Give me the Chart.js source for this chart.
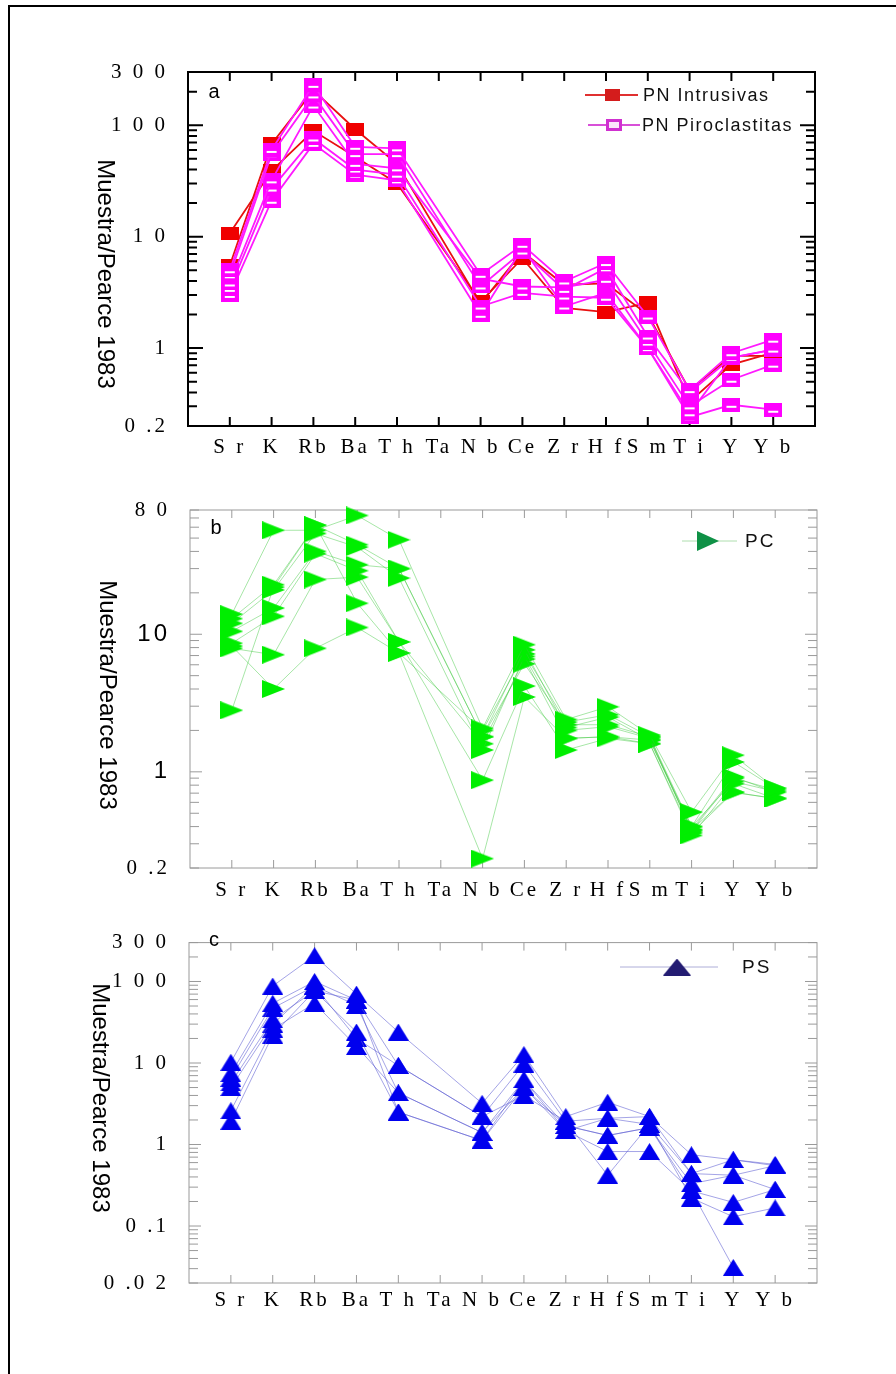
<!DOCTYPE html>
<html>
<head>
<meta charset="utf-8">
<script src="https://cdn.jsdelivr.net/npm/chart.js@4.4.0/dist/chart.umd.min.js"></script>
<style>
  body { margin: 0; background: #fff; }
  #page { position: relative; width: 896px; height: 1374px; overflow: hidden; background: #fff; }
  canvas { position: absolute; left: 0; }
  #edge { position: absolute; left: 8px; top: 5px; width: 950px; height: 1450px; border-left: 2px solid #000; border-top: 2px solid #000; }
</style>
</head>
<body>
<div id="page">
  <div id="edge"></div>
  <canvas id="chartA" width="896" height="470" style="top:0"></canvas>
  <canvas id="chartB" width="896" height="440" style="top:470px"></canvas>
  <canvas id="chartC" width="896" height="464" style="top:910px"></canvas>
</div>
<script>
// elements (Pearce 1983 normalisation), Ta has no data
const elements = ['Sr', 'K', 'Rb', 'Ba', 'Th', 'Ta', 'Nb', 'Ce', 'Zr', 'Hf', 'Sm', 'Ti', 'Y', 'Yb'];
const elementLabels = ['S r', 'K', 'Rb', 'Ba', 'T h', 'Ta', 'N b', 'Ce', 'Z r', 'H f', 'S m', 'T i', 'Y', 'Y b'];

// a - PN
const intrusivas = [
  [10.7, 39, 89, 52, 30, null, 2.6, 6.4, 2.3, 2.1, 2.55, 0.33, 0.71, 0.91],
  [5.5, 68, 205, 92, 45, null, 2.5, 7.3, 3.7, 3.8, 2.0, 0.42, 0.85, 0.85]
];
const piroclastitas = [
  [5.0, 60, 230, 64, 62, null, 4.55, 8.45, 3.96, 5.8, 1.92, 0.42, 0.9, 1.19],
  [4.5, 55, 185, 55, 55, null, 3.57, 7.35, 3.33, 5.2, 1.27, 0.40, 0.82, 0.97],
  [3.8, 32, 150, 45, 41, null, 4.2, 3.57, 3.5, 4.1, 1.12, 0.30, 0.52, 0.71],
  [3.4, 27, 76, 40, 36, null, 2.36, 3.13, 2.9, 2.83, 1.0, 0.26, 0.82, 0.97],
  [3.0, 21, 68, 36, 32, null, 1.99, 7.9, 2.36, 3.13, 1.0, 0.24, 0.31, 0.28]
];
const ticksA = [0.2, 1, 10, 100, 300];
const tickLabelsA = ['0 .2', '1', '1 0', '1 0 0', '3 0 0'];

// b - PC
const pc = [
  [14, 57, 57, 73, 48.6, null, 2.07, 8.4, 2.4, 2.97, 1.85, 0.51, 1.32, 0.76],
  [13, 22.9, 62, 44.8, 30, null, 1.8, 7.7, 2.1, 2.5, 1.7, 0.40, 1.18, 0.76],
  [12, 21, 54, 43, 25.6, null, 1.44, 6.9, 2.0, 2.13, 1.75, 0.38, 0.92, 0.71],
  [10.5, 15.5, 40, 32, 30, null, 1.8, 6.1, 2.2, 2.2, 1.8, 0.40, 0.85, 0.72],
  [8.6, 13.5, 38.5, 29, 8.8, null, 1.6, 6.6, 1.75, 1.8, 1.6, 0.345, 0.82, 0.64],
  [7.9, 7.1, 25, 26, 8.8, null, 0.87, 4.2, 1.44, 1.75, 1.6, 0.36, 0.71, 0.64],
  [8.2, 4.0, 7.9, 11.2, 7.3, null, 0.234, 3.5, 1.75, 1.8, 1.7, 0.38, 0.71, 0.64],
  [2.8, 22, 62, 16.8, 7.3, null, 2.0, 7.2, 2.3, 2.6, 1.8, 0.37, 0.9, 0.74]
];
const ticksB = [0.2, 1, 10, 80];
const tickLabelsB = ['0 .2', '1', '10', '8 0'];
const tickFontsB = ['serif', 'sans', 'sans', 'serif'];

// c - PS
const ps = [
  [10.2, 88, 207, 70, 24, null, 3.2, 12.7, 2.2, 3.3, 2.2, 0.75, 0.65, 0.57],
  [7.4, 54, 100, 59, 9.3, null, 2.2, 9.7, 1.93, 2.1, 1.76, 0.44, 0.42, 0.55],
  [6.5, 47, 88, 51, 4.3, null, 1.4, 6.2, 1.7, 1.29, 1.61, 0.33, 0.42, 0.28],
  [5.7, 34, 77, 24, 2.5, null, 1.12, 5.0, 1.47, 0.82, 0.82, 0.27, 0.195, 0.28],
  [5.0, 30, 88, 20, 9.3, null, 2.2, 4.0, 1.93, 0.42, 1.76, 0.22, 0.13, 0.167],
  [2.6, 26, 54, 16, 4.3, null, 1.4, 5.0, 1.7, 1.29, 1.61, 0.27, 0.031, null],
  [1.93, 22, 77, 59, 2.5, null, 1.12, 6.2, 1.47, 2.1, 2.2, 0.44, 0.65, 0.55]
];
const ticksC = [0.02, 0.1, 1, 10, 100, 300];
const tickLabelsC = ['0 .0 2', '0 .1', '1', '1 0', '1 0 0', '3 0 0'];

// marker images
function marker(w, h, paint) {
  const c = document.createElement('canvas');
  c.width = w; c.height = h;
  paint(c.getContext('2d'), w, h);
  return c;
}
const redSquare = marker(18, 13, (g, w, h) => { g.fillStyle = '#f00000'; g.fillRect(0, 0, w, h); });
const pinkSquare = marker(18, 14, (g, w, h) => {
  g.fillStyle = '#ff00ff'; g.fillRect(0, 0, w, h);
  g.fillStyle = '#fff'; g.fillRect(4, 8, 10, 2);
});
const greenTri = marker(23, 18, (g, w, h) => {
  g.fillStyle = '#00ee00'; g.beginPath(); g.moveTo(0, 0); g.lineTo(w, h / 2); g.lineTo(0, h); g.closePath(); g.fill();
});
const blueTri = marker(21, 17, (g, w, h) => {
  g.fillStyle = '#0000ee'; g.beginPath(); g.moveTo(w / 2, 0); g.lineTo(w, h); g.lineTo(0, h); g.closePath(); g.fill();
});
const legRed = marker(15, 12, (g, w, h) => { g.fillStyle = '#d41c1c'; g.fillRect(0, 0, w, h); });
const legPink = marker(16, 12, (g, w, h) => {
  g.fillStyle = '#d030d0'; g.fillRect(0, 0, w, h);
  g.fillStyle = '#fbe6fb'; g.fillRect(3, 3, w - 6, h - 6);
});
const legGreen = marker(22, 20, (g, w, h) => {
  g.fillStyle = '#0f9146'; g.beginPath(); g.moveTo(0, 0); g.lineTo(w, h / 2); g.lineTo(0, h); g.closePath(); g.fill();
});
const legNavy = marker(28, 17, (g, w, h) => {
  g.fillStyle = '#231c72'; g.beginPath(); g.moveTo(w / 2, 0); g.lineTo(w, h); g.lineTo(0, h); g.closePath(); g.fill();
});

const serif = 'Liberation Serif, Times New Roman, serif';
const sans = 'Liberation Sans, Arial, sans-serif';

const panelDecor = {
  id: 'panelDecor',
  beforeDraw(chart) {
    chart.ctx.letterSpacing = '3px';
  },
  beforeDatasetsDraw(chart, args, o) {
    const { ctx, chartArea: area, scales: { x, y } } = chart;
    ctx.save();
    ctx.strokeStyle = o.frameColor;
    ctx.lineWidth = o.frameWidth;
    ctx.strokeRect(area.left, area.top, area.right - area.left, area.bottom - area.top);
    ctx.beginPath();
    elements.forEach((el, i) => {
      const px = x.getPixelForValue(i);
      ctx.moveTo(px, area.top); ctx.lineTo(px, area.top + o.xTick);
      ctx.moveTo(px, area.bottom); ctx.lineTo(px, area.bottom - o.xTick);
    });
    const lo = Math.floor(Math.log10(y.min));
    const hi = Math.ceil(Math.log10(y.max));
    for (let d = lo; d <= hi; d++) {
      for (let m = 1; m < 10; m++) {
        const v = m * Math.pow(10, d);
        if (v < y.min * 0.999 || v > y.max * 1.001) continue;
        const py = y.getPixelForValue(v);
        const len = m === 1 ? o.majorTick : o.minorTick;
        ctx.moveTo(area.left, py); ctx.lineTo(area.left + len, py);
        ctx.moveTo(area.right, py); ctx.lineTo(area.right - len, py);
      }
    }
    ctx.stroke();
    ctx.restore();
  },
  afterDraw(chart, args, o) {
    const ctx = chart.ctx;
    ctx.save();
    ctx.fillStyle = '#000';
    ctx.letterSpacing = '0px';
    ctx.font = '20px ' + sans;
    ctx.textAlign = 'center';
    ctx.textBaseline = 'middle';
    ctx.fillText(o.letter, o.letterX, o.letterY);

    ctx.save();
    ctx.translate(o.titleX, o.titleY);
    ctx.rotate(Math.PI / 2);
    ctx.font = '24px ' + sans;
    ctx.fillText('Muestra/Pearce 1983', 0, 0);
    ctx.restore();

    o.legend.forEach(item => {
      ctx.strokeStyle = item.lineColor;
      ctx.lineWidth = item.lineWidth;
      ctx.beginPath();
      ctx.moveTo(item.x1, item.y); ctx.lineTo(item.x2, item.y);
      ctx.stroke();
      ctx.drawImage(item.marker, item.mx - item.marker.width / 2, item.y - item.marker.height / 2);
      ctx.font = item.size + 'px ' + sans;
      ctx.letterSpacing = item.spacing;
      ctx.fillStyle = '#111';
      ctx.textAlign = 'left';
      ctx.fillText(item.text, item.tx, item.y + 1);
    });
    ctx.restore();
  }
};

function seriesData(values) {
  return values.map((v, i) => ({ x: i, y: v }));
}

function makeDataset(values, lineColor, lineWidth, pointImg) {
  return {
    data: seriesData(values),
    borderColor: lineColor,
    borderWidth: lineWidth,
    pointStyle: pointImg,
    pointRadius: 9,
    tension: 0,
    spanGaps: true,
    clip: false
  };
}

function makeChart(id, datasets, cfg) {
  return new Chart(document.getElementById(id), {
    type: 'line',
    data: { datasets: datasets },
    plugins: [panelDecor],
    options: {
      responsive: false,
      animation: false,
      events: [],
      layout: { padding: { left: 0, top: cfg.top, right: cfg.right, bottom: 0 } },
      plugins: {
        legend: { display: false },
        tooltip: { enabled: false },
        panelDecor: cfg.decor
      },
      scales: {
        x: {
          type: 'linear',
          min: -1,
          max: 14,
          afterBuildTicks: s => { s.ticks = elements.map((el, i) => ({ value: i })); },
          afterFit: s => { s.height = cfg.xHeight; },
          grid: { display: false, drawTicks: false },
          border: { display: false },
          ticks: {
            autoSkip: false,
            maxRotation: 0,
            padding: cfg.xPad,
            color: '#000',
            font: { family: serif, size: 21 },
            callback: v => elementLabels[v]
          }
        },
        y: {
          type: 'logarithmic',
          min: cfg.ticks[0],
          max: cfg.ticks[cfg.ticks.length - 1],
          afterBuildTicks: s => { s.ticks = cfg.ticks.map(v => ({ value: v })); },
          afterFit: s => { s.width = cfg.left; },
          grid: { display: false, drawTicks: false },
          border: { display: false },
          ticks: {
            padding: 20,
            color: '#000',
            font: c => (cfg.fonts && cfg.fonts[c.index] === 'sans') ? { family: sans, size: 24 } : { family: serif, size: 21 },
            callback: (v, i) => cfg.labels[i]
          }
        }
      }
    }
  });
}

// panel a
const dsA = piroclastitas.map(v => makeDataset(v, '#ff1aff', 1.8, pinkSquare))
  .concat(intrusivas.map(v => makeDataset(v, '#e81010', 1.8, redSquare)));
makeChart('chartA', dsA, {
  top: 72, right: 81, left: 188, xHeight: 44, xPad: 9,
  ticks: ticksA, labels: tickLabelsA,
  decor: {
    frameColor: '#000', frameWidth: 2, xTick: 9, majorTick: 15, minorTick: 9,
    letter: 'a', letterX: 214, letterY: 92, titleX: 105, titleY: 274,
    legend: [
      { text: 'PN Intrusivas', x1: 585, x2: 638, mx: 612, y: 95, tx: 643, lineColor: '#e03030', lineWidth: 2, marker: legRed, size: 18, spacing: '1.5px' },
      { text: 'PN Piroclastitas', x1: 588, x2: 640, mx: 614, y: 125, tx: 642, lineColor: '#d850d8', lineWidth: 2, marker: legPink, size: 18, spacing: '1.5px' }
    ]
  }
});

// panel b
makeChart('chartB', pc.map(v => makeDataset(v, 'rgba(60,200,60,0.45)', 1, greenTri)), {
  top: 40, right: 79, left: 190, xHeight: 42, xPad: 10,
  ticks: ticksB, labels: tickLabelsB, fonts: tickFontsB,
  decor: {
    frameColor: '#9a9a9a', frameWidth: 1, xTick: 8, majorTick: 12, minorTick: 9,
    letter: 'b', letterX: 216, letterY: 58, titleX: 107, titleY: 225,
    legend: [
      { text: 'PC', x1: 682, x2: 737, mx: 708, y: 71, tx: 745, lineColor: 'rgba(120,200,120,0.6)', lineWidth: 1, marker: legGreen, size: 19, spacing: '2px' }
    ]
  }
});

// panel c
makeChart('chartC', ps.map(v => makeDataset(v, 'rgba(90,90,210,0.55)', 1, blueTri)), {
  top: 16, right: 79, left: 189, xHeight: 91, xPad: 5,
  ticks: ticksC, labels: tickLabelsC,
  decor: {
    frameColor: '#9a9a9a', frameWidth: 1, xTick: 8, majorTick: 12, minorTick: 9,
    letter: 'c', letterX: 214, letterY: 30, titleX: 100, titleY: 188,
    legend: [
      { text: 'PS', x1: 620, x2: 718, mx: 677, y: 57, tx: 742, lineColor: 'rgba(140,140,200,0.7)', lineWidth: 1, marker: legNavy, size: 19, spacing: '2px' }
    ]
  }
});
</script>
</body>
</html>
